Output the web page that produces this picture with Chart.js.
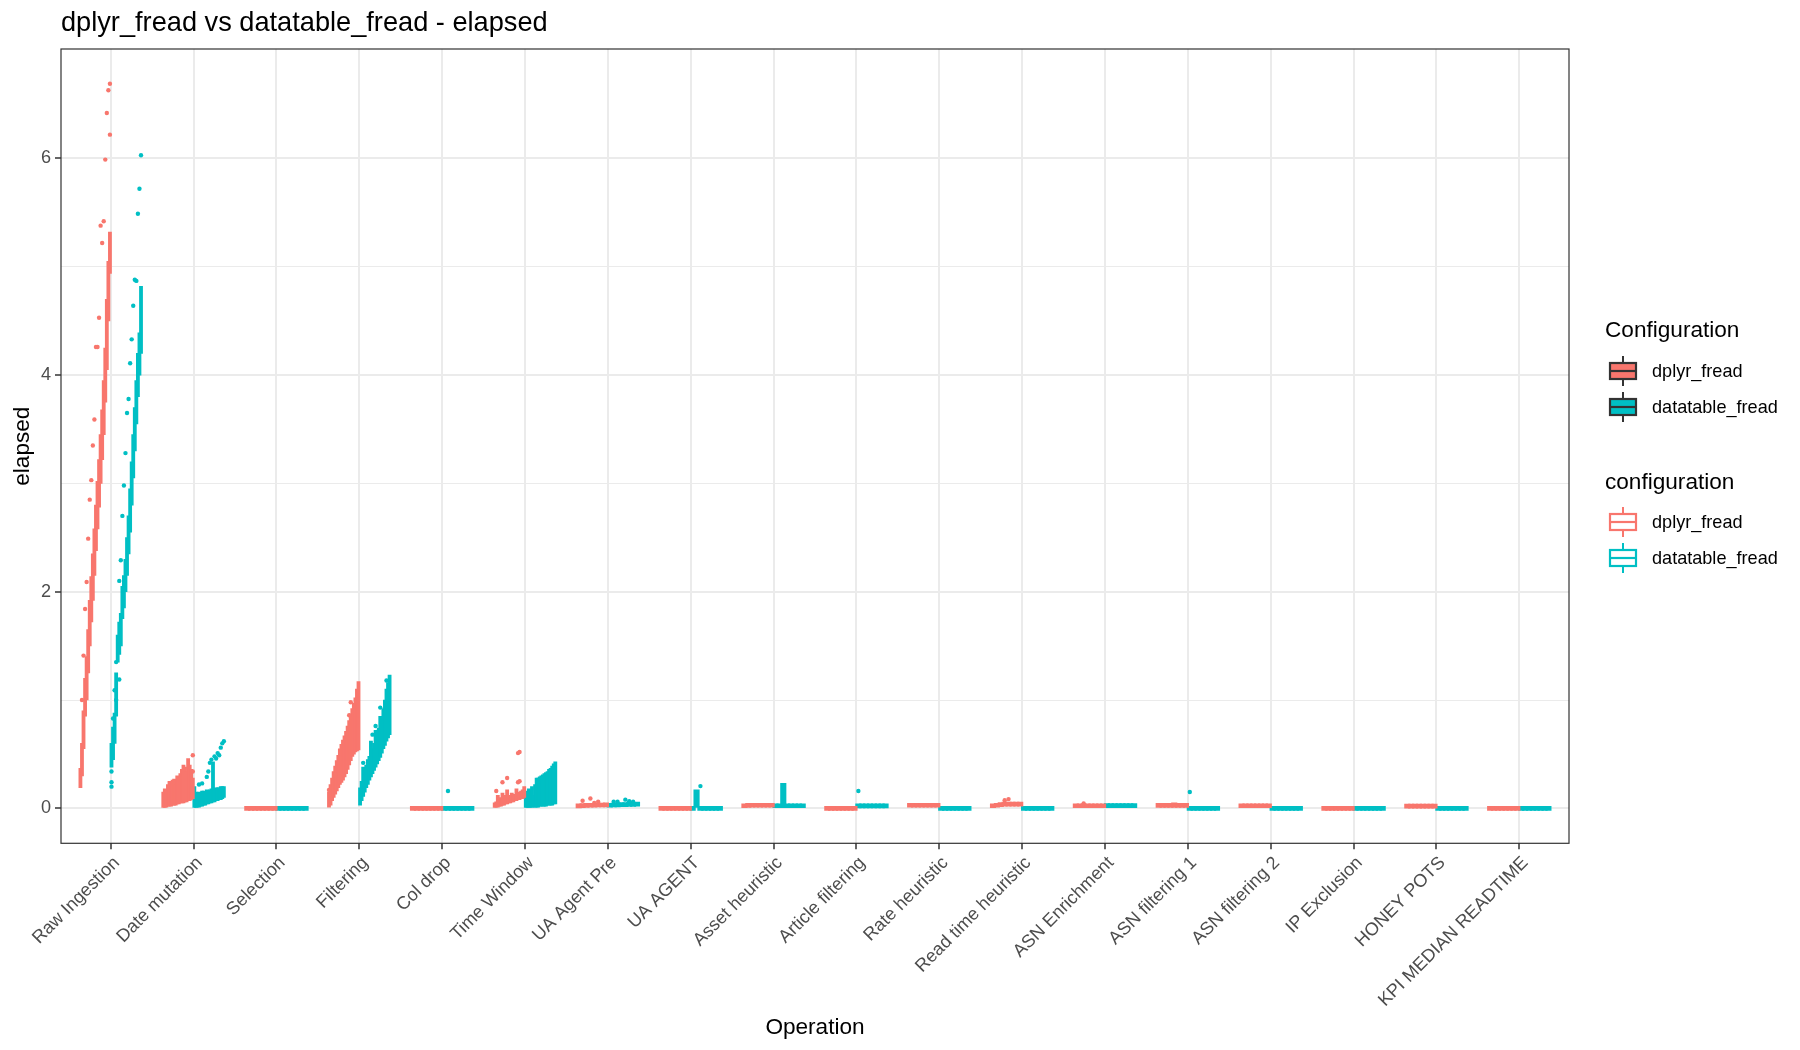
<!DOCTYPE html>
<html><head><meta charset="utf-8">
<script src="https://cdn.jsdelivr.net/npm/chart.js@4.4.1/dist/chart.umd.min.js"></script>
<style>
html,body{margin:0;padding:0;background:#fff;}
#wrap{position:relative;width:1800px;height:1050px;font-family:"Liberation Sans",Arial,Helvetica,sans-serif;}
canvas{position:absolute;left:0;top:0;}
.t{position:absolute;white-space:nowrap;line-height:1;color:#000;}
.row{position:absolute;height:36px;display:flex;align-items:center;white-space:nowrap;}
.row span{font-size:18.1px;color:#000;margin-left:13px;}
</style></head><body>
<div id="wrap">
<canvas id="c" width="1800" height="1050"></canvas>
<div class="t" id="title" style="left:61px;top:7.8px;font-size:27.2px;">dplyr_fread vs datatable_fread - elapsed</div>
<div id="legend"></div>
</div>
<script>
// ---------------- DATA ----------------
const operations = ["Raw Ingestion","Date mutation","Selection","Filtering","Col drop","Time Window","UA Agent Pre","UA AGENT","Asset heuristic","Article filtering","Rate heuristic","Read time heuristic","ASN Enrichment","ASN filtering 1","ASN filtering 2","IP Exclusion","HONEY POTS","KPI MEDIAN READTIME"];
const seriesNames = ["dplyr_fread","datatable_fread"];
const legendTitles = ["Configuration","configuration"];
const yMajorTicks = [0,2,4,6];
const yMinorTicks = [1,3,5];

// whisker-to-whisker range of each small box (low / high), per operation
const dplyrLow = [
 [0.19,0.30,0.55,0.85,1.00,1.25,1.50,1.72,1.92,2.15,2.38,2.58,2.78,3.00,3.22,3.45,3.75,4.05,4.50,4.94],
 [0.00,0.00,0.01,0.02,0.02,0.02,0.03,0.03,0.03,0.04,0.04,0.05,0.05,0.05,0.06,0.06,0.07,0.07,0.08,0.09],
 [0,0,0,0,0,0,0,0],
 [0.01,0.03,0.07,0.10,0.13,0.16,0.19,0.22,0.24,0.26,0.29,0.32,0.36,0.40,0.44,0.48,0.50,0.52,0.53,0.54],
 [0,0,0,0,0,0,0,0],
 [0.00,0.01,0.01,0.02,0.02,0.03,0.03,0.04,0.04,0.05,0.05,0.06,0.06,0.07,0.07,0.08,0.08,0.09,0.09,0.10],
 [0.004,0.006,0.008,0.010,0.010,0.012,0.012,0.014],
 [0,0,0,0,0,0,0,0],
 [0.005,0.008,0.010,0.010,0.010,0.010,0.010,0.010],
 [0,0,0,0,0,0,0,0],
 [0.010,0.010,0.010,0.010,0.010,0.010,0.010,0.010],
 [0.005,0.010,0.015,0.020,0.020,0.020,0.020,0.020],
 [0.005,0.005,0.005,0.005,0.005,0.005,0.005,0.005],
 [0.008,0.008,0.008,0.008,0.008,0.008,0.008,0.008],
 [0.005,0.005,0.005,0.005,0.005,0.005,0.005,0.005],
 [0,0,0,0,0,0,0,0],
 [0.002,0.002,0.002,0.002,0.002,0.002,0.002,0.002],
 [0,0,0,0,0,0,0,0]
];
const dplyrHigh = [
 [0.37,0.60,0.90,1.20,1.40,1.65,1.92,2.14,2.35,2.58,2.80,3.02,3.22,3.45,3.68,3.95,4.25,4.70,5.05,5.32],
 [0.15,0.18,0.17,0.22,0.25,0.25,0.26,0.27,0.22,0.30,0.28,0.32,0.36,0.40,0.38,0.34,0.46,0.40,0.36,0.28],
 [0.004,0.005,0.004,0.005,0.004,0.005,0.004,0.005],
 [0.15,0.22,0.28,0.34,0.39,0.44,0.49,0.55,0.59,0.63,0.67,0.71,0.76,0.81,0.87,0.92,0.97,1.02,1.10,1.17],
 [0.004,0.005,0.004,0.005,0.004,0.005,0.004,0.005],
 [0.05,0.06,0.12,0.08,0.10,0.14,0.09,0.12,0.17,0.12,0.10,0.14,0.12,0.13,0.18,0.14,0.15,0.16,0.17,0.20],
 [0.025,0.030,0.034,0.036,0.038,0.040,0.040,0.042],
 [0.004,0.005,0.004,0.005,0.004,0.005,0.004,0.005],
 [0.040,0.032,0.028,0.026,0.026,0.025,0.025,0.025],
 [0.006,0.006,0.006,0.006,0.006,0.006,0.006,0.006],
 [0.025,0.025,0.025,0.025,0.025,0.025,0.025,0.025],
 [0.030,0.040,0.045,0.050,0.055,0.050,0.050,0.045],
 [0.020,0.020,0.022,0.020,0.020,0.020,0.020,0.020],
 [0.025,0.025,0.030,0.040,0.050,0.030,0.030,0.025],
 [0.020,0.020,0.025,0.035,0.020,0.020,0.020,0.020],
 [0.004,0.004,0.004,0.004,0.004,0.004,0.004,0.004],
 [0.010,0.012,0.025,0.012,0.010,0.010,0.010,0.010],
 [0.004,0.004,0.004,0.004,0.004,0.004,0.004,0.004]
];
// outliers: [box index, value]
const dplyrOutliers = [
 [[19,6.69],[18,6.63],[17,6.42],[19,6.22],[16,5.99],[15,5.42],[13,5.38],[14,5.22],[12,4.53],[10,4.26],[11,4.26],[9,3.59],[8,3.35],[7,3.03],[6,2.85],[5,2.49],[4,2.09],[3,1.84],[2,1.41],[1,1.00]],
 [[19,0.49],[19,0.34]],
 [],
 [[14,0.98],[13,0.86],[4,0.31],[0,0.17]],
 [],
 [[1,0.16],[5,0.24],[8,0.28],[15,0.51],[16,0.52],[15,0.24],[16,0.25]],
 [[1,0.07],[3,0.09],[5,0.06],[4,0.05]],
 [],[],[],[],
 [[3,0.075],[4,0.085]],
 [[2,0.045]],
 [],[],[],[],[]
];

const datatableLow = [
 [0.38,0.45,0.60,0.85,1.35,1.42,1.50,1.75,1.85,2.00,2.15,2.35,2.55,2.80,3.05,3.30,3.55,3.80,4.00,4.20],
 [0.00,0.00,0.01,0.01,0.02,0.02,0.03,0.03,0.04,0.04,0.05,0.05,0.06,0.06,0.07,0.07,0.08,0.08,0.09,0.10],
 [0,0,0,0,0,0,0,0],
 [0.03,0.07,0.11,0.15,0.19,0.22,0.26,0.29,0.32,0.35,0.38,0.41,0.44,0.47,0.51,0.55,0.58,0.62,0.65,0.68],
 [0,0,0,0,0,0,0,0],
 [0.00,0.00,0.00,0.00,0.01,0.01,0.01,0.01,0.01,0.02,0.02,0.02,0.02,0.02,0.03,0.03,0.03,0.03,0.04,0.04],
 [0.010,0.012,0.014,0.016,0.016,0.018,0.018,0.020],
 [0,0,0,0,0,0,0,0],
 [0.005,0.005,0.005,0.005,0.005,0.005,0.005,0.005],
 [0.004,0.004,0.004,0.004,0.004,0.004,0.004,0.004],
 [0,0,0,0,0,0,0,0],
 [0,0,0,0,0,0,0,0],
 [0.006,0.006,0.006,0.006,0.006,0.006,0.006,0.006],
 [0,0,0,0,0,0,0,0],
 [0,0,0,0,0,0,0,0],
 [0,0,0,0,0,0,0,0],
 [0,0,0,0,0,0,0,0],
 [0,0,0,0,0,0,0,0]
];
const datatableHigh = [
 [0.60,0.75,0.88,1.25,1.60,1.72,1.80,2.05,2.15,2.30,2.50,2.70,2.95,3.20,3.45,3.70,3.95,4.20,4.39,4.82],
 [0.20,0.15,0.14,0.15,0.14,0.16,0.16,0.15,0.17,0.16,0.17,0.18,0.43,0.18,0.19,0.19,0.19,0.20,0.20,0.20],
 [0.004,0.005,0.004,0.005,0.004,0.005,0.004,0.005],
 [0.19,0.25,0.38,0.33,0.40,0.45,0.48,0.62,0.55,0.60,0.72,0.66,0.74,0.85,0.80,0.92,1.00,1.10,1.16,1.23],
 [0.004,0.005,0.004,0.005,0.004,0.005,0.004,0.005],
 [0.15,0.16,0.18,0.17,0.20,0.12,0.22,0.28,0.28,0.29,0.30,0.31,0.32,0.33,0.34,0.36,0.37,0.39,0.41,0.43],
 [0.030,0.035,0.038,0.040,0.042,0.045,0.048,0.050],
 [0.004,0.170,0.004,0.004,0.004,0.004,0.004,0.004],
 [0.020,0.020,0.230,0.020,0.025,0.025,0.025,0.025],
 [0.014,0.014,0.014,0.014,0.014,0.014,0.014,0.014],
 [0.005,0.005,0.005,0.005,0.005,0.005,0.005,0.005],
 [0.004,0.004,0.004,0.004,0.004,0.004,0.004,0.004],
 [0.022,0.022,0.022,0.022,0.022,0.022,0.022,0.022],
 [0.004,0.004,0.004,0.004,0.004,0.004,0.004,0.004],
 [0.004,0.004,0.004,0.004,0.004,0.004,0.004,0.004],
 [0.004,0.004,0.004,0.004,0.004,0.004,0.004,0.004],
 [0.004,0.004,0.004,0.004,0.004,0.004,0.004,0.004],
 [0.004,0.004,0.004,0.004,0.004,0.004,0.004,0.004]
];
const datatableOutliers = [
 [[19,6.03],[18,5.72],[17,5.49],[15,4.88],[16,4.87],[14,4.64],[13,4.33],[12,4.11],[11,3.78],[10,3.65],[9,3.28],[8,2.98],[7,2.70],[6,2.29],[5,2.10],[3,1.35],[5,1.19],[2,1.09],[3,1.00],[1,0.83],[0,0.34],[0,0.24],[0,0.20]],
 [[3,0.22],[5,0.23],[7,0.14],[8,0.29],[9,0.34],[10,0.42],[11,0.45],[13,0.48],[15,0.51],[17,0.56],[18,0.60],[19,0.62],[14,0.46],[16,0.49]],
 [],
 [[2,0.42],[8,0.68],[10,0.76],[13,0.93],[17,1.18]],
 [[1,0.16]],
 [],
 [[1,0.06],[2,0.06],[4,0.08],[5,0.065],[6,0.06]],
 [[2,0.205]],
 [],
 [[0,0.16]],
 [],[],[],
 [[0,0.15]],
 [],[],[],[]
];

// ---------------- STYLE / LAYOUT ----------------
const FONT = '"Liberation Sans", Arial, Helvetica, sans-serif';
const COLORS = ['#F8766D', '#00BFC4'];
const DODGE = 0.375;
const PANEL = {left: 61, top: 49, right: 1569, bottom: 843.3};
const X_MIN = 0.4, X_MAX = 18.6;
const Y_MIN = -0.323, Y_MAX = 7.011;
const unitPx = (PANEL.right - PANEL.left) / (X_MAX - X_MIN);

const configs = [
  {lows: dplyrLow, highs: dplyrHigh, outs: dplyrOutliers, side: -1, color: COLORS[0]},
  {lows: datatableLow, highs: datatableHigh, outs: datatableOutliers, side: 0, color: COLORS[1]}
];

const datasets = [];
operations.forEach((op, i) => {
  const pos = i + 1;
  configs.forEach(cfg => {
    const lo = cfg.lows[i], hi = cfg.highs[i];
    const n = lo.length;
    const start = pos + cfg.side * DODGE;
    const w = DODGE / n;
    datasets.push({
      type: 'bar',
      data: lo.map((l, j) => ({x: start + (j + 0.5) * w, y: [l, hi[j]]})),
      backgroundColor: cfg.color,
      borderWidth: 0,
      barThickness: w * unitPx + 1.6,
      minBarLength: 4,
      grouped: true,
      stack: 'all',
      order: 2
    });
    const outs = cfg.outs[i];
    if (outs.length) {
      datasets.push({
        type: 'scatter',
        data: outs.map(([j, v]) => ({x: start + (j + 0.5) * w, y: v})),
        pointRadius: 2.2,
        pointBackgroundColor: cfg.color,
        pointBorderWidth: 0,
        order: 1
      });
    }
  });
});

const borderPlugin = {
  id: 'panelBorder',
  afterDraw(chart) {
    const {ctx, chartArea: a} = chart;
    ctx.save();
    ctx.strokeStyle = '#333333';
    ctx.lineWidth = 1.2;
    ctx.strokeRect(a.left, a.top, a.right - a.left, a.bottom - a.top);
    ctx.restore();
  }
};

new Chart(document.getElementById('c'), {
  type: 'bar',
  data: {datasets},
  plugins: [borderPlugin],
  options: {
    responsive: false,
    animation: false,
    devicePixelRatio: 1,
    events: [],
    layout: {padding: {left: 0, top: PANEL.top, right: 1800 - PANEL.right, bottom: 0}, autoPadding: false},
    plugins: {legend: {display: false}, tooltip: {enabled: false}, title: {display: false}},
    scales: {
      x: {
        type: 'linear', min: X_MIN, max: X_MAX, offset: false,
        afterBuildTicks: s => { s.ticks = operations.map((_, i) => ({value: i + 1})); },
        afterFit: s => { s.height = 1050 - PANEL.bottom; },
        ticks: {autoSkip: false, minRotation: 45, maxRotation: 45, padding: 3, labelOffset: 6, color: '#4D4D4D',
                font: {family: FONT, size: 18.1}, callback: v => operations[v - 1]},
        grid: {offset: false, color: '#EBEBEB', lineWidth: 2, tickColor: '#333333', tickLength: 6, tickWidth: 1.5},
        border: {display: false},
        title: {display: true, text: 'Operation', color: '#000000', font: {family: FONT, size: 22.6}, padding: {top: 0, bottom: 9}}
      },
      y: {
        type: 'linear', min: Y_MIN, max: Y_MAX, stacked: false,
        afterBuildTicks: s => { s.ticks = [...yMajorTicks, ...yMinorTicks].sort((a, b) => a - b).map(v => ({value: v})); },
        afterFit: s => { s.width = PANEL.left; },
        ticks: {color: '#4D4D4D', font: {family: FONT, size: 18.1}, padding: 4,
                callback: v => yMajorTicks.includes(v) ? String(v) : ''},
        grid: {color: '#EBEBEB',
               lineWidth: c => (c.tick && yMajorTicks.includes(c.tick.value)) ? 2 : 1,
               tickColor: c => (c.tick && yMajorTicks.includes(c.tick.value)) ? '#333333' : 'rgba(0,0,0,0)',
               tickLength: 6, tickWidth: 1.5},
        border: {display: false},
        title: {display: true, text: 'elapsed', color: '#000000', font: {family: FONT, size: 22.6}, padding: {top: 9, bottom: 0}}
      }
    }
  }
});

// ---------------- LEGEND ----------------
(function buildLegend() {
  const lg = document.getElementById('legend');
  const sections = [
    {title: legendTitles[0], titleTop: 319, rows: [371, 407], filled: true},
    {title: legendTitles[1], titleTop: 471, rows: [522, 558], filled: false}
  ];
  sections.forEach(sec => {
    const t = document.createElement('div');
    t.className = 't';
    t.style.left = '1605px'; t.style.top = sec.titleTop + 'px'; t.style.fontSize = '22.6px';
    t.textContent = sec.title;
    lg.appendChild(t);
    sec.rows.forEach((cy, k) => {
      const r = document.createElement('div');
      r.className = 'row';
      r.style.left = '1607px'; r.style.top = (cy - 18) + 'px';
      const col = COLORS[k];
      const fill = sec.filled ? col : '#FFFFFF';
      const stroke = sec.filled ? '#333333' : col;
      r.innerHTML = '<svg width="32" height="36" viewBox="0 0 32 36">' +
        '<line x1="16" y1="3" x2="16" y2="10" stroke="' + stroke + '" stroke-width="2"/>' +
        '<line x1="16" y1="26" x2="16" y2="33" stroke="' + stroke + '" stroke-width="2"/>' +
        '<rect x="3" y="10" width="26" height="16" fill="' + fill + '" stroke="' + stroke + '" stroke-width="2.2"/>' +
        '<line x1="3" y1="18" x2="29" y2="18" stroke="' + stroke + '" stroke-width="2.2"/>' +
        '</svg><span>' + seriesNames[k] + '</span>';
      lg.appendChild(r);
    });
  });
})();
</script>
</body></html>
